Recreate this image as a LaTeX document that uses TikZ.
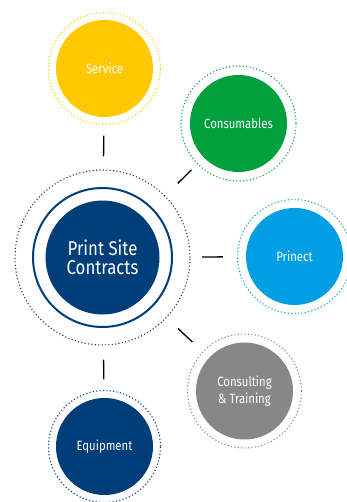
\documentclass[tikz,border=0pt]{standalone}
\usepackage{fontspec}
\setmainfont{Fira Sans}[FakeStretch=0.84]
\definecolor{cyel}{HTML}{FFC800}
\definecolor{cgrn}{HTML}{00A03C}
\definecolor{cblu}{HTML}{009FE3}
\definecolor{cgry}{HTML}{878787}
\definecolor{cnav}{HTML}{003E7A}
\begin{document}
\begin{tikzpicture}[x=1pt,y=-1pt,
  disc/.style={circle,inner sep=0pt,minimum size=97pt,fill=#1,text=white,align=center,
    font=\fontsize{13.5}{17}\selectfont},
  ring/.style={circle,inner sep=0pt,minimum size=#1,draw,line width=1.1pt,dash pattern=on 1.1pt off 2.3pt},
  link/.style={draw=black,line width=1.3pt}]
\useasboundingbox (0,0) rectangle (347,502);
% outer dotted rings
\node[ring=112pt,draw=cyel] (rs) at (104.5,68.5) {};
\node[ring=115pt,draw=cgrn] (rcn) at (238.5,123.5) {};
\node[ring=175pt,draw=black!80] (rc) at (102.5,257.5) {};
\node[ring=114pt,draw=cblu] (rp) at (294.5,256.5) {};
\node[ring=114pt,draw=cgry] (rct) at (244.5,391) {};
\node[ring=112pt,draw=cnav] (re) at (104.5,446.5) {};
% discs
\node[disc=cyel] (s) at (rs) {Service};
\node[disc=cgrn] (cn) at (rcn) {Consumables};
\node[disc=cblu] (p) at (rp) {Prinect};
\node[disc=cgry] (ct) at (rct) {Consulting\\\& Training};
\node[disc=cnav] (e) at (re) {Equipment};
% center
\node[circle,inner sep=0pt,minimum size=139pt,draw=cnav,line width=2pt] (cr) at (rc) {};
\node[disc=cnav,minimum size=114pt,font=\fontsize{20}{19.5}\selectfont] (c) at (rc) {Print Site\\Contracts};
% connectors
\draw[link,shorten <=13pt,shorten >=10.5pt] (rc) -- (rs);
\draw[link,shorten <=17.5pt,shorten >=8pt] (rc) -- (rcn);
\draw[link,shorten <=11.7pt,shorten >=14.2pt] (rc) -- (rp);
\draw[link,shorten <=15.5pt,shorten >=14pt] (rc) -- (rct);
\draw[link,shorten <=14pt,shorten >=10.5pt] (rc) -- (re);
\end{tikzpicture}
\end{document}
